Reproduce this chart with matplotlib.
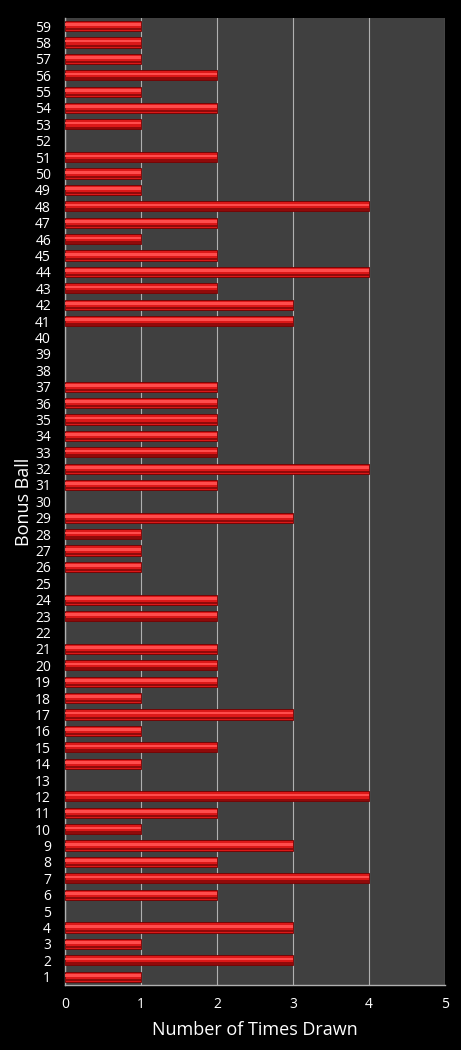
import numpy as np
import matplotlib
matplotlib.use("Agg")
import matplotlib.pyplot as plt

# bonus ball numbers and how often each was drawn
balls = list(range(1, 60))
times_drawn = [1, 3, 1, 3, 0, 2, 4, 2, 3, 1,
               2, 4, 0, 1, 2, 1, 3, 1, 2, 2,
               2, 0, 2, 2, 0, 1, 1, 1, 3, 0,
               2, 4, 2, 2, 2, 2, 2, 0, 0, 0,
               3, 3, 2, 4, 2, 1, 2, 4, 1, 1,
               2, 0, 1, 2, 1, 2, 1, 1, 1]
x_ticks = [0, 1, 2, 3, 4, 5]

plt.rcParams['font.family'] = ['Open Sans', 'DejaVu Sans']

fig = plt.figure(figsize=(4.61, 10.5), dpi=100, facecolor='black')
ax = fig.add_axes([0.141, 0.062, 0.824, 0.921])
ax.set_facecolor('#404040')

y = np.array(balls)
v = np.array(times_drawn)
m = v > 0   # empty balls get no bar at all

# base bar plus highlight / shadow strips for the glossy look
ax.barh(y[m], v[m], height=0.62, color='#dc1818', edgecolor='#6e0000', linewidth=0.6, zorder=3)
ax.barh(y[m] - 0.2, v[m], height=0.14, color='#900a0a', linewidth=0, zorder=4)
ax.barh(y[m] + 0.08, v[m], height=0.16, color='#ff4c4c', linewidth=0, zorder=4)

ax.set_xlim(0, 5)
ax.set_ylim(0.5, 59.5)
ax.set_xticks(x_ticks)
ax.set_yticks(balls)
ax.set_yticklabels([str(b) for b in balls])
ax.grid(axis='x', color='#b0b0b0', linewidth=0.8, zorder=1)
ax.tick_params(colors='white', labelsize=10, length=0, pad=10)
ax.tick_params(axis='x', pad=9)

for s in ['top', 'right']:
    ax.spines[s].set_visible(False)
for s in ['left', 'bottom']:
    ax.spines[s].set_color('#b0b0b0')
    ax.spines[s].set_linewidth(1.0)

ax.set_xlabel('Number of Times Drawn', color='white', fontsize=13, labelpad=6)
ax.set_ylabel('Bonus Ball', color='white', fontsize=13)
ax.yaxis.set_label_coords(-0.085, 0.5)

fig.savefig('out.png', dpi=100, facecolor='black')
